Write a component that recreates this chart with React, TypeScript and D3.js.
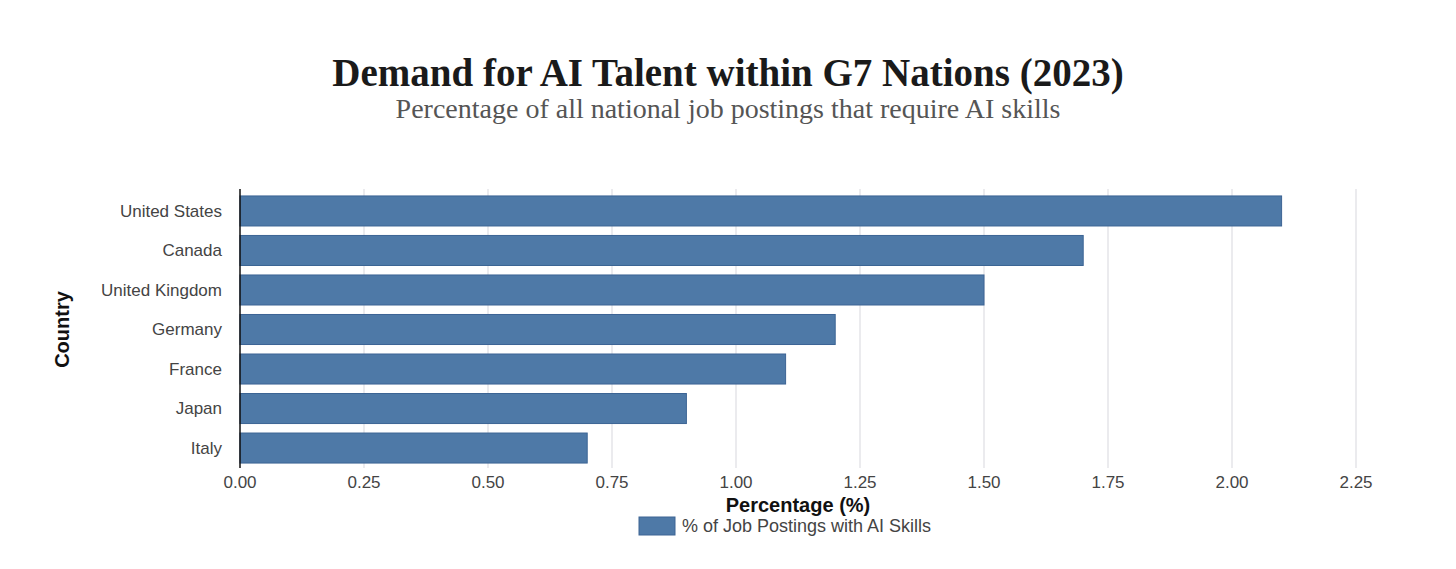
import { scaleBand, scaleLinear } from "d3";

const countries = ["United States", "Canada", "United Kingdom", "Germany", "France", "Japan", "Italy"];
const shares = [2.1, 1.7, 1.5, 1.2, 1.1, 0.9, 0.7];
const xTicks = [0, 0.25, 0.5, 0.75, 1.0, 1.25, 1.5, 1.75, 2.0, 2.25];

const title = "Demand for AI Talent within G7 Nations (2023)";
const subtitle = "Percentage of all national job postings that require AI skills";
const legendLabel = "% of Job Postings with AI Skills";

const W = 1456;
const H = 569;
const sans = "'Liberation Sans', Arial, Helvetica, sans-serif";
const serif = "'Liberation Serif', 'DejaVu Serif', serif";

export default function App() {
  const left = 240;
  const top = 192;
  const bottom = 467;
  const x = scaleLinear().domain([0, 2.25]).range([left, 1356]);
  const y = scaleBand<string>()
    .domain(countries)
    .range([top, bottom])
    .paddingInner(0.24)
    .paddingOuter(0.1);

  return (
    <svg width={W} height={H} style={{ position: "absolute", left: 0, top: 0, background: "#fff" }}>
      <text x={728} y={86} textAnchor="middle" fontFamily={serif} fontWeight="bold" fontSize={39} fill="#1a1a1a">
        {title}
      </text>
      <text x={728} y={118} textAnchor="middle" fontFamily={serif} fontSize={28} fill="#555">
        {subtitle}
      </text>

      {xTicks.map((t) => (
        <g key={t}>
          {t > 0 && (
            <line x1={x(t)} x2={x(t)} y1={189} y2={468} stroke="#e4e4e8" strokeWidth={1.5} />
          )}
          <text x={x(t)} y={488} textAnchor="middle" fontFamily={sans} fontSize={17} fill="#444">
            {t.toFixed(2)}
          </text>
        </g>
      ))}

      {countries.map((c, i) => (
        <g key={c}>
          <rect
            x={x(0)}
            y={y(c)}
            width={x(shares[i]) - x(0)}
            height={y.bandwidth()}
            fill="#4e79a7"
            stroke="#3c6494"
            strokeWidth={1}
          />
          <text
            x={222}
            y={(y(c) ?? 0) + y.bandwidth() / 2}
            dy="0.35em"
            textAnchor="end"
            fontFamily={sans}
            fontSize={17}
            fill="#444"
          >
            {c}
          </text>
        </g>
      ))}

      <line x1={left} x2={left} y1={189} y2={468} stroke="#111" strokeWidth={1.5} />

      <text
        transform={`translate(69,${(top + bottom) / 2}) rotate(-90)`}
        textAnchor="middle"
        fontFamily={sans}
        fontWeight="bold"
        fontSize={20}
        fill="#111"
      >
        Country
      </text>
      <text x={798} y={512} textAnchor="middle" fontFamily={sans} fontWeight="bold" fontSize={20} fill="#111">
        Percentage (%)
      </text>

      <rect x={639} y={517} width={36} height={18} fill="#4e79a7" stroke="#3c6494" strokeWidth={1} />
      <text x={682} y={532} fontFamily={sans} fontSize={18} fill="#444">
        {legendLabel}
      </text>
    </svg>
  );
}
